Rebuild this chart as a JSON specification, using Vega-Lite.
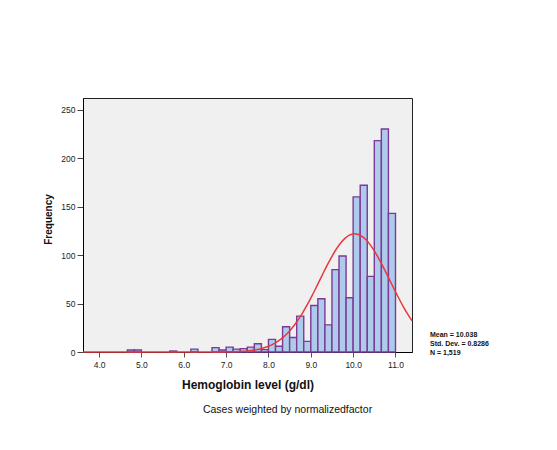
{
  "$schema": "https://vega.github.io/schema/vega-lite/v6.json",
  "width": 329,
  "height": 254,
  "autosize": {"type": "none"},
  "padding": {"left": 83, "top": 98, "right": 145, "bottom": 98},
  "background": "white",
  "config": {
    "font": "Liberation Sans",
    "view": {"fill": "#f0f0f0", "stroke": "#222222", "strokeWidth": 1}
  },
  "title": {
    "text": "Cases weighted by normalizedfactor",
    "orient": "bottom",
    "anchor": "middle",
    "dx": 40,
    "offset": 15,
    "fontSize": 10.5,
    "fontWeight": "normal",
    "color": "#111111",
    "font": "Liberation Sans"
  },
  "datasets": {
    "bins": [
      {"start": 4.6667, "end": 4.8333, "count": 2},
      {"start": 4.8333, "end": 5.0, "count": 2},
      {"start": 5.6667, "end": 5.8333, "count": 1},
      {"start": 6.1667, "end": 6.3333, "count": 3},
      {"start": 6.6667, "end": 6.8333, "count": 4.5},
      {"start": 6.8333, "end": 7.0, "count": 2},
      {"start": 7.0, "end": 7.1667, "count": 5},
      {"start": 7.1667, "end": 7.3333, "count": 3},
      {"start": 7.3333, "end": 7.5, "count": 3.5},
      {"start": 7.5, "end": 7.6667, "count": 5},
      {"start": 7.6667, "end": 7.8333, "count": 8.5},
      {"start": 7.8333, "end": 8.0, "count": 2.5},
      {"start": 8.0, "end": 8.1667, "count": 13},
      {"start": 8.1667, "end": 8.3333, "count": 6},
      {"start": 8.3333, "end": 8.5, "count": 26},
      {"start": 8.5, "end": 8.6667, "count": 15},
      {"start": 8.6667, "end": 8.8333, "count": 37},
      {"start": 8.8333, "end": 9.0, "count": 11},
      {"start": 9.0, "end": 9.1667, "count": 48},
      {"start": 9.1667, "end": 9.3333, "count": 55},
      {"start": 9.3333, "end": 9.5, "count": 28},
      {"start": 9.5, "end": 9.6667, "count": 85},
      {"start": 9.6667, "end": 9.8333, "count": 99},
      {"start": 9.8333, "end": 10.0, "count": 56},
      {"start": 10.0, "end": 10.1667, "count": 160},
      {"start": 10.1667, "end": 10.3333, "count": 172},
      {"start": 10.3333, "end": 10.5, "count": 78},
      {"start": 10.5, "end": 10.6667, "count": 218},
      {"start": 10.6667, "end": 10.8333, "count": 230},
      {"start": 10.8333, "end": 11.0, "count": 143}
    ],
    "curve": [
      {"hb": 3.62, "freq": 0},
      {"hb": 5.0, "freq": 0},
      {"hb": 6.0, "freq": 0.001},
      {"hb": 6.5, "freq": 0.013},
      {"hb": 6.6, "freq": 0.022},
      {"hb": 6.7, "freq": 0.037},
      {"hb": 6.8, "freq": 0.059},
      {"hb": 6.9, "freq": 0.094},
      {"hb": 7.0, "freq": 0.147},
      {"hb": 7.1, "freq": 0.227},
      {"hb": 7.2, "freq": 0.346},
      {"hb": 7.3, "freq": 0.519},
      {"hb": 7.4, "freq": 0.767},
      {"hb": 7.5, "freq": 1.118},
      {"hb": 7.6, "freq": 1.606},
      {"hb": 7.7, "freq": 2.276},
      {"hb": 7.8, "freq": 3.175},
      {"hb": 7.9, "freq": 4.369},
      {"hb": 8.0, "freq": 5.919},
      {"hb": 8.1, "freq": 7.911},
      {"hb": 8.2, "freq": 10.413},
      {"hb": 8.3, "freq": 13.506},
      {"hb": 8.4, "freq": 17.27},
      {"hb": 8.5, "freq": 21.769},
      {"hb": 8.6, "freq": 27.037},
      {"hb": 8.7, "freq": 33.096},
      {"hb": 8.8, "freq": 39.923},
      {"hb": 8.9, "freq": 47.465},
      {"hb": 9.0, "freq": 55.613},
      {"hb": 9.1, "freq": 64.225},
      {"hb": 9.2, "freq": 73.093},
      {"hb": 9.3, "freq": 81.977},
      {"hb": 9.4, "freq": 90.62},
      {"hb": 9.5, "freq": 98.726},
      {"hb": 9.6, "freq": 106.0},
      {"hb": 9.7, "freq": 112.16},
      {"hb": 9.8, "freq": 116.965},
      {"hb": 9.9, "freq": 120.213},
      {"hb": 10.0, "freq": 121.763},
      {"hb": 10.038, "freq": 121.891},
      {"hb": 10.1, "freq": 121.55},
      {"hb": 10.2, "freq": 119.584},
      {"hb": 10.3, "freq": 115.948},
      {"hb": 10.4, "freq": 110.795},
      {"hb": 10.5, "freq": 104.342},
      {"hb": 10.6, "freq": 96.843},
      {"hb": 10.7, "freq": 88.586},
      {"hb": 10.8, "freq": 79.861},
      {"hb": 10.9, "freq": 70.955},
      {"hb": 11.0, "freq": 62.125},
      {"hb": 11.1, "freq": 53.616},
      {"hb": 11.2, "freq": 45.596},
      {"hb": 11.3, "freq": 38.22},
      {"hb": 11.39, "freq": 32.203}
    ],
    "stats": [
      {"label": "Mean = 10.038\nStd. Dev. = 0.8286\nN = 1,519"}
    ]
  },
  "layer": [
    {
      "data": {"name": "bins"},
      "mark": {"type": "bar", "fill": "#aecbeb", "stroke": "#7b3a94", "strokeWidth": 1.4},
      "encoding": {
        "x": {
          "field": "start",
          "type": "quantitative",
          "scale": {"domain": [3.62, 11.39], "nice": false, "zero": false},
          "axis": {
            "title": "Hemoglobin level (g/dl)",
            "values": [4, 5, 6, 7, 8, 9, 10, 11],
            "format": ".1f",
            "grid": false,
            "domainColor": "#000000",
            "tickColor": "#555555",
            "tickSize": 5,
            "labelFontSize": 8.5,
            "labelColor": "#222222",
            "labelPadding": 3,
            "labelFlush": false,
            "titleFontSize": 12,
            "titleFontWeight": "bold",
            "titleColor": "#111111",
            "titleBaseline": "alphabetic",
            "titleY": 36
          }
        },
        "x2": {"field": "end"},
        "y": {
          "field": "count",
          "type": "quantitative",
          "scale": {"domain": [0, 262], "nice": false},
          "axis": {
            "title": "Frequency",
            "values": [0, 50, 100, 150, 200, 250],
            "grid": false,
            "domainColor": "#000000",
            "tickColor": "#444444",
            "tickSize": 6,
            "labelFontSize": 8.5,
            "labelColor": "#222222",
            "labelPadding": 2,
            "titleFontSize": 10,
            "titleFontWeight": "bold",
            "titleColor": "#111111",
            "titleBaseline": "alphabetic",
            "titleX": -32,
            "titleY": 121
          }
        },
        "y2": {"datum": 0}
      }
    },
    {
      "data": {"name": "curve"},
      "mark": {"type": "line", "color": "#e8383d", "strokeWidth": 1.5, "interpolate": "monotone"},
      "encoding": {
        "x": {"field": "hb", "type": "quantitative"},
        "y": {"field": "freq", "type": "quantitative"}
      }
    },
    {
      "data": {"name": "stats"},
      "mark": {
        "type": "text",
        "align": "left",
        "baseline": "bottom",
        "dx": 18,
        "dy": -14,
        "fontSize": 7,
        "fontWeight": "bold",
        "lineBreak": "\n",
        "lineHeight": 9,
        "color": "#111111"
      },
      "encoding": {
        "x": {"value": "width"},
        "y": {"value": "height"},
        "text": {"field": "label"}
      }
    }
  ]
}
